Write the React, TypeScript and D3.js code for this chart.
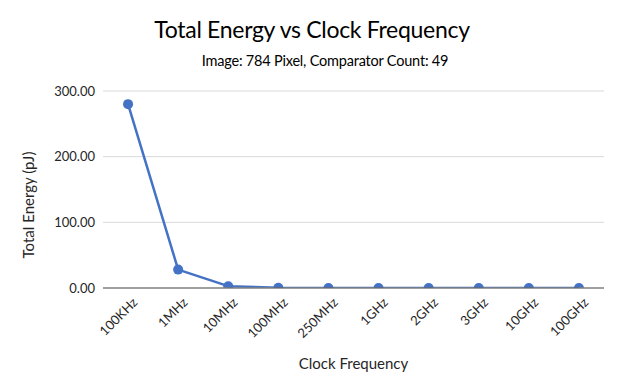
import React, { useEffect, useRef } from "react";
import * as d3 from "d3";

// clock frequencies on the x axis
const frequencies = ["100KHz", "1MHz", "10MHz", "100MHz", "250MHz", "1GHz", "2GHz", "3GHz", "10GHz", "100GHz"];
// total energy in pJ
const energy = [280, 28, 2.8, 0.28, 0.11, 0.028, 0.014, 0.009, 0.003, 0.0003];
const yTicks = [0, 100, 200, 300];

const width = 624;
const height = 392;
const margin = { top: 91, right: 20, bottom: 104, left: 103 };
const font = "Lato, 'Open Sans', sans-serif";

export default function App() {
  const ref = useRef<SVGSVGElement>(null);

  useEffect(() => {
    const svg = d3.select(ref.current);
    svg.selectAll("*").remove();

    const x = d3
      .scaleBand()
      .domain(frequencies)
      .range([margin.left, width - margin.right]);

    const y = d3
      .scaleLinear()
      .domain([0, 300])
      .range([height - margin.bottom, margin.top]);

    svg.append("rect").attr("width", width).attr("height", height).attr("fill", "#fff");

    svg
      .append("clipPath")
      .attr("id", "plot-clip")
      .append("rect")
      .attr("x", margin.left)
      .attr("y", 0)
      .attr("width", width - margin.left - margin.right)
      .attr("height", y(0) - 0.5);

    // gridlines
    svg
      .append("g")
      .selectAll("line")
      .data(yTicks.filter((d) => d > 0))
      .join("line")
      .attr("x1", margin.left)
      .attr("x2", width - margin.right)
      .attr("y1", (d) => y(d))
      .attr("y2", (d) => y(d))
      .attr("stroke", "#d9d9d9")
      .attr("stroke-width", 1);

    // y tick labels
    svg
      .append("g")
      .selectAll("text")
      .data(yTicks)
      .join("text")
      .attr("x", margin.left - 8)
      .attr("y", (d) => y(d))
      .attr("dy", "0.35em")
      .attr("text-anchor", "end")
      .attr("font-family", font)
      .attr("font-size", 13)
      .attr("fill", "#262626")
      .text((d) => d3.format(".2f")(d));

    // x tick labels
    svg
      .append("g")
      .selectAll("text")
      .data(frequencies)
      .join("text")
      .attr("transform", (d) => `translate(${x(d)! + x.bandwidth() / 2 + 7},${y(0) + 12}) rotate(-45)`)
      .attr("text-anchor", "end")
      .attr("dy", "0.35em")
      .attr("font-family", font)
      .attr("font-size", 13)
      .attr("fill", "#262626")
      .text((d) => d);

    const line = d3
      .line<number>()
      .x((d, i) => x(frequencies[i])! + x.bandwidth() / 2)
      .y((d) => y(d));

    const plot = svg.append("g").attr("clip-path", "url(#plot-clip)");

    plot
      .append("path")
      .datum(energy)
      .attr("fill", "none")
      .attr("stroke", "#4472c4")
      .attr("stroke-width", 2.5)
      .attr("stroke-linejoin", "round")
      .attr("d", line);

    plot
      .append("g")
      .selectAll("circle")
      .data(energy)
      .join("circle")
      .attr("cx", (d, i) => x(frequencies[i])! + x.bandwidth() / 2)
      .attr("cy", (d) => y(d))
      .attr("r", 5)
      .attr("fill", "#4472c4");

    // x axis line
    svg
      .append("line")
      .attr("x1", margin.left)
      .attr("x2", width - margin.right)
      .attr("y1", y(0))
      .attr("y2", y(0))
      .attr("stroke", "#404040")
      .attr("stroke-width", 1.2);

    // titles
    svg
      .append("text")
      .attr("x", 312)
      .attr("y", 38)
      .attr("text-anchor", "middle")
      .attr("font-family", font)
      .attr("font-size", 23)
      .attr("letter-spacing", -0.3)
      .attr("fill", "#000")
      .text("Total Energy vs Clock Frequency");

    svg
      .append("text")
      .attr("x", 325)
      .attr("y", 66)
      .attr("text-anchor", "middle")
      .attr("font-family", font)
      .attr("font-size", 14.5)
      .attr("letter-spacing", -0.2)
      .attr("fill", "#000")
      .text("Image: 784 Pixel, Comparator Count: 49");

    svg
      .append("text")
      .attr("x", (margin.left + width - margin.right) / 2)
      .attr("y", 369)
      .attr("text-anchor", "middle")
      .attr("font-family", font)
      .attr("font-size", 15)
      .attr("fill", "#262626")
      .text("Clock Frequency");

    svg
      .append("text")
      .attr("transform", "translate(34,205) rotate(-90)")
      .attr("text-anchor", "middle")
      .attr("font-family", font)
      .attr("font-size", 15)
      .attr("fill", "#262626")
      .text("Total Energy (pJ)");
  }, []);

  return (
    <svg
      ref={ref}
      width={width}
      height={height}
      style={{ position: "absolute", left: 0, top: 0 }}
    />
  );
}
